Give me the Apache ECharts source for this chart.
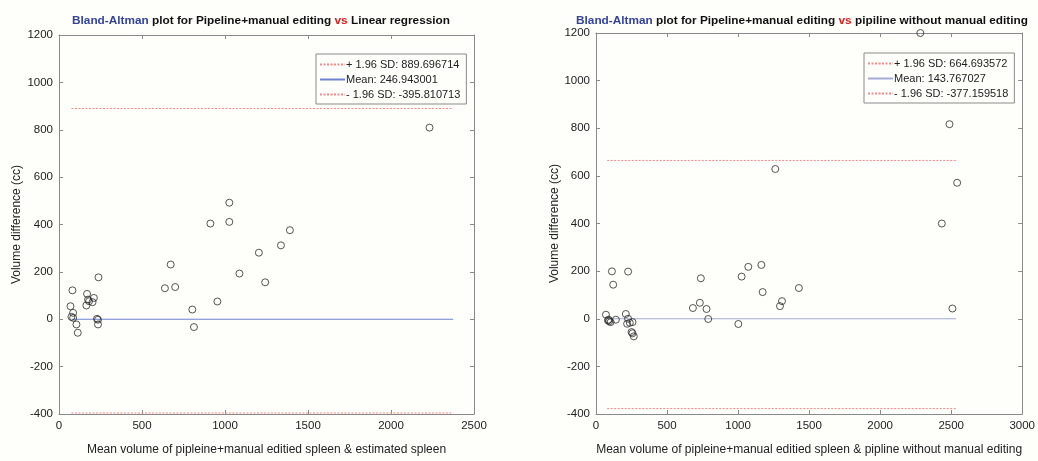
<!DOCTYPE html>
<html>
<head>
<meta charset="utf-8">
<script src="https://cdn.jsdelivr.net/npm/echarts@6/dist/echarts.min.js"></script>
<style>
html,body{margin:0;padding:0;background:#fefefa;}
#chart{width:1038px;height:461px;}
</style>
</head>
<body>
<div id="chart"></div>
<script>
// ---- Left plot data: Pipeline+manual editing vs Linear regression ----
var leftMeanX = [69,85,75,85,81,105,113,169,175,181,165,202,210,238,229,235,235,1026,912,1026,1391,1337,1204,673,1087,1242,638,700,954,803,813,2232];
var leftDiffY = [55,27,10,6,122,-22,-57,107,83,76,58,72,90,177,2,-2,-22,492,404,411,376,312,281,231,193,156,131,136,75,41,-33,809];
var leftUpperSD = 889.696714;
var leftMean = 246.943001;
var leftLowerSD = -395.810713;
var leftLineSpan = [75, 2375];

// ---- Right plot data: Pipeline+manual editing vs pipiline without manual editing ----
var rightMeanX = [70,84,93,103,89,112,121,140,226,210,226,219,238,257,250,257,266,682,731,738,778,790,1002,1025,1072,1164,1173,1295,1309,1428,1262,2434,2542,2509,2283,2488];
var rightDiffY = [17,-7,-11,-14,-4,199,143,-4,198,20,0,-21,-17,-14,-56,-61,-74,45,67,170,41,-1,-22,177,218,226,112,53,74,129,629,400,571,43,1200,817];
var rightUpperSD = 664.693572;
var rightMean = 143.767027;
var rightLowerSD = -377.159518;
var rightLineSpan = [79, 2535];

// drawn level of the blue "mean" line (as in the picture)
var meanLineLevel = 0;

var yTicks = {min: -400, max: 1200, interval: 200};
var leftXTicks = {min: 0, max: 2500, interval: 500};
var rightXTicks = {min: 0, max: 3000, interval: 500};

var titles = [
  '{b|Bland-Altman} plot for Pipeline+manual editing {r|vs} Linear regression',
  '{b|Bland-Altman} plot for Pipeline+manual editing {r|vs} pipiline without manual editing'
];
var xNames = [
  'Mean volume of pipleine+manual editied spleen & estimated spleen',
  'Mean volume of pipleine+manual editied spleen & pipline without manual editing'
];
var yName = 'Volume difference (cc)';

function fmt(v){ return v.toFixed(6); }
var leftNames = ['+ 1.96 SD: ' + fmt(leftUpperSD), 'Mean: ' + fmt(leftMean), '- 1.96 SD: ' + fmt(leftLowerSD)];
var rightNames = ['+ 1.96 SD: ' + fmt(rightUpperSD), 'Mean: ' + fmt(rightMean), '- 1.96 SD: ' + fmt(rightLowerSD)];

var FONT = '"Liberation Sans", Arial, Helvetica, sans-serif';
var axisGray = '#8a8a8a';
var textColor = '#222';
var redDot = '#f08c8c';
var blueLine = '#6f82d2';
var blueLine2 = '#a4abd4';

function zip(xs, ys){ return xs.map(function(x,i){ return [x, ys[i]]; }); }
function hline(span, y){ return [[span[0], y], [span[1], y]]; }
function plain(v){ return String(v); }

// dotted legend icon path (25 x 1 units)
var dotPath = 'path://';
for (var k = 0; k < 25; k += 3) { dotPath += 'M' + k + ',0h1.5v1h-1.5z '; }
var solidPath = 'path://M0,0h25v1h-25z';

function xAxisPair(grid, t, name){
  return [
    {type:'value', gridIndex:grid, position:'bottom', min:t.min, max:t.max, interval:t.interval,
     name:name, nameLocation:'middle', nameGap:30,
     nameTextStyle:{fontFamily:FONT, fontSize:12, color:textColor},
     axisLine:{show:true, onZero:false, lineStyle:{color:axisGray, width:1}},
     axisTick:{show:true, inside:true, length:4, lineStyle:{color:axisGray}},
     axisLabel:{fontFamily:FONT, fontSize:11.5, color:textColor, margin:6, formatter:plain},
     splitLine:{show:false}},
    {type:'value', gridIndex:grid, position:'top', min:t.min, max:t.max, interval:t.interval,
     axisLine:{show:true, onZero:false, lineStyle:{color:axisGray, width:1}},
     axisTick:{show:true, inside:true, length:4, lineStyle:{color:axisGray}},
     axisLabel:{show:false}, splitLine:{show:false}}
  ];
}
function yAxisPair(grid, t, name, gap){
  return [
    {type:'value', gridIndex:grid, position:'left', min:t.min, max:t.max, interval:t.interval,
     name:name, nameLocation:'middle', nameGap:gap, nameRotate:90,
     nameTextStyle:{fontFamily:FONT, fontSize:12, color:textColor},
     axisLine:{show:true, onZero:false, lineStyle:{color:axisGray, width:1}},
     axisTick:{show:true, inside:true, length:4, lineStyle:{color:axisGray}},
     axisLabel:{fontFamily:FONT, fontSize:11.5, color:textColor, margin:6, formatter:plain},
     splitLine:{show:false}},
    {type:'value', gridIndex:grid, position:'right', min:t.min, max:t.max, interval:t.interval,
     axisLine:{show:true, onZero:false, lineStyle:{color:axisGray, width:1}},
     axisTick:{show:true, inside:true, length:4, lineStyle:{color:axisGray}},
     axisLabel:{show:false}, splitLine:{show:false}}
  ];
}

function lineSeries(name, data, xi, yi, color, type, icon){
  return {type:'line', name:name, xAxisIndex:xi, yAxisIndex:yi, data:data,
    symbol:'none', showSymbol:false, silent:true, animation:false, z:1,
    legendIcon: icon,
    lineStyle:{color:color, width:1, type:type}, itemStyle:{color:color}};
}
function scatterSeries(data, xi, yi){
  return {type:'scatter', xAxisIndex:xi, yAxisIndex:yi, data:data, symbol:'circle', symbolSize:7,
    clip:false, animation:false, z:3,
    itemStyle:{color:'rgba(0,0,0,0)', borderColor:'#2a2a2a', borderWidth:1}};
}

var TFS = 11.8;
var richTitle = {
  b:{color:'#34449a', fontWeight:'bold', fontSize:TFS, fontFamily:FONT},
  r:{color:'#d42020', fontWeight:'bold', fontSize:TFS, fontFamily:FONT}
};

function legendBox(names, left, top){
  return {
    orient:'vertical', left:left, top:top, data:names.map(function(n){return {name:n};}),
    itemWidth:25, itemHeight:1, itemGap:2, padding:[4,6,3,3],
    symbolKeepAspect:false,
    borderColor:'#8a8a8a', borderWidth:1, backgroundColor:'#fefefa',
    selectedMode:false,
    textStyle:{fontFamily:FONT, fontSize:11, color:textColor, padding:[0,0,0,-4], lineHeight:13}
  };
}

var option = {
  backgroundColor:'#fefefa',
  animation:false,
  title:[
    {text:titles[0], left:256, top:10, textAlign:'center',
     textStyle:{fontFamily:FONT, fontSize:TFS, fontWeight:'bold', color:'#111', rich:richTitle}},
    {text:titles[1], left:797, top:10, textAlign:'center',
     textStyle:{fontFamily:FONT, fontSize:TFS, fontWeight:'bold', color:'#111', rich:richTitle}}
  ],
  grid:[
    {left:59, top:35, width:415, height:382},
    {left:596, top:33, width:428, height:383}
  ],
  xAxis: xAxisPair(0, leftXTicks, xNames[0]).concat(xAxisPair(1, rightXTicks, xNames[1])),
  yAxis: yAxisPair(0, yTicks, yName, 36).concat(yAxisPair(1, yTicks, yName, 34)),
  legend:[
    legendBox(leftNames, 316, 54),
    legendBox(rightNames, 864, 53)
  ],
  series:[
    lineSeries(leftNames[0], hline(leftLineSpan, leftUpperSD), 0, 0, redDot, [2,1.5], dotPath),
    lineSeries(leftNames[1], hline(leftLineSpan, meanLineLevel), 0, 0, blueLine, 'solid', solidPath),
    lineSeries(leftNames[2], hline(leftLineSpan, leftLowerSD), 0, 0, redDot, [2,1.5], dotPath),
    scatterSeries(zip(leftMeanX, leftDiffY), 0, 0),
    lineSeries(rightNames[0], hline(rightLineSpan, rightUpperSD), 2, 2, redDot, [2,1.5], dotPath),
    lineSeries(rightNames[1], hline(rightLineSpan, meanLineLevel), 2, 2, blueLine2, 'solid', solidPath),
    lineSeries(rightNames[2], hline(rightLineSpan, rightLowerSD), 2, 2, redDot, [2,1.5], dotPath),
    scatterSeries(zip(rightMeanX, rightDiffY), 2, 2)
  ]
};

var chart = echarts.init(document.getElementById('chart'), null, {renderer:'canvas'});
chart.setOption(option);
</script>
</body>
</html>
